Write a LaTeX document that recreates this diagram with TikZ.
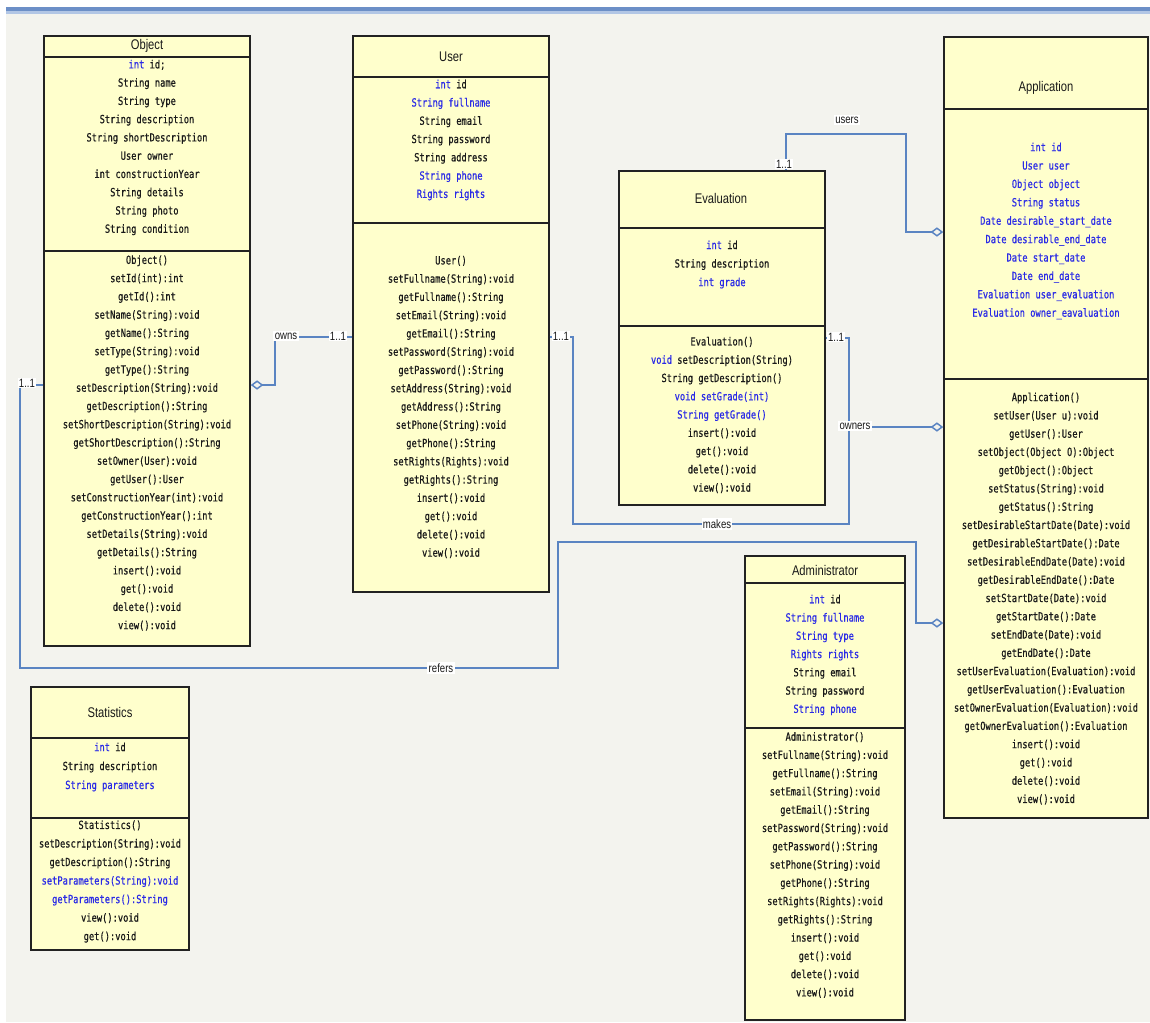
\documentclass[tikz,border=0pt]{standalone}
\usepackage{fontspec}
\setmainfont{Liberation Sans}
\newfontfamily\codefont[FakeStretch=0.78,FakeBold=0.6]{DejaVu Sans Mono}
\newfontfamily\titlefont[FakeStretch=0.8]{Liberation Sans}
\usetikzlibrary{fit,arrows.meta}
\definecolor{boxfill}{HTML}{FFFFCC}
\definecolor{boxline}{HTML}{222222}
\definecolor{bluetxt}{HTML}{2A2AE6}
\definecolor{conncol}{HTML}{5A84C2}
\definecolor{bggray}{HTML}{F3F3EE}
\definecolor{bandA}{HTML}{6C8FC7}
\definecolor{bandB}{HTML}{B2C6E5}
\newcommand{\bl}[1]{\textcolor{bluetxt}{#1}}
\tikzset{
 classbox/.style={draw=boxline, fill=boxfill, line width=1.1pt, inner sep=0pt},
 divider/.style={draw=boxline, line width=1.1pt},
 ctitle/.style={font=\titlefont\fontsize{10.5}{12}\selectfont, text=black!90, inner sep=0pt},
 members/.style={font=\codefont\fontsize{8.4}{#1}\selectfont, align=center, text=black!90, inner sep=0pt},
 members/.default=13.7pt,
 conn/.style={draw=conncol, line width=1.4pt},
 agg/.style={conn, -{Diamond[open, length=9.5pt, width=7pt, line width=1.1pt]}},
 lbl/.style={fill=white, inner sep=1pt, font=\titlefont\fontsize{9}{10}\selectfont, text=black!90},
}
\begin{document}
\begin{tikzpicture}[x=0.75pt,y=-0.75pt]
\useasboundingbox (0,0) rectangle (1150,1022);
\fill[white] (0,0) rectangle (1150,1022);
\fill[bggray] (6,14) rectangle (1150,1022);
\fill[bandA] (6,7) rectangle (1150,10.5);
\fill[bandB] (6,10.5) rectangle (1150,14);

% ---------- Object ----------
\node[classbox, fit={(44,36) (250,646)}] (obj) {};
\draw[divider] (obj.west |- 0,57) -- (obj.east |- 0,57);
\draw[divider] (obj.west |- 0,251) -- (obj.east |- 0,251);
\node[ctitle] (objT) at (147,46) {Object};
\node[members] (objA) at (147,147.5) {\bl{int} id;\\String name\\String type\\String description\\String shortDescription\\User owner\\int constructionYear\\String details\\String photo\\String condition};
\node[members] (objM) at (147,443) {Object()\\setId(int):int\\getId():int\\setName(String):void\\getName():String\\setType(String):void\\getType():String\\setDescription(String):void\\getDescription():String\\setShortDescription(String):void\\getShortDescription():String\\setOwner(User):void\\getUser():User\\setConstructionYear(int):void\\getConstructionYear():int\\setDetails(String):void\\getDetails():String\\insert():void\\get():void\\delete():void\\view():void};

% ---------- User ----------
\node[classbox, fit={(353,36) (549,592)}] (user) {};
\draw[divider] (user.west |- 0,77) -- (user.east |- 0,77);
\node[ctitle] (userT) at (451,57) {User};
\draw[divider] (user.west |- 0,223) -- (user.east |- 0,223);
\node[members] (userA) at (451,140) {\bl{int} id\\\bl{String fullname}\\String email\\String password\\String address\\\bl{String phone}\\\bl{Rights rights}};
\node[members] (userM) at (451,407) {User()\\setFullname(String):void\\getFullname():String\\setEmail(String):void\\getEmail():String\\setPassword(String):void\\getPassword():String\\setAddress(String):void\\getAddress():String\\setPhone(String):void\\getPhone():String\\setRights(Rights):void\\getRights():String\\insert():void\\get():void\\delete():void\\view():void};

% ---------- Evaluation ----------
\node[classbox, fit={(619,171) (825,505)}] (eval) {};
\draw[divider] (eval.west |- 0,228) -- (eval.east |- 0,228);
\draw[divider] (eval.west |- 0,326) -- (eval.east |- 0,326);
\node[ctitle] (evalT) at (721,198) {Evaluation};
\node[members=13.9pt] (evalA) at (722,264.5) {\bl{int} id\\String description\\\bl{int grade}};
\node[members] (evalM) at (722,415) {Evaluation()\\\bl{void} setDescription(String)\\String getDescription()\\\bl{void setGrade(int)}\\\bl{String getGrade()}\\insert():void\\get():void\\delete():void\\view():void};

% ---------- Application ----------
\node[classbox, fit={(944,37) (1148,818)}] (app) {};
\draw[divider] (app.west |- 0,109) -- (app.east |- 0,109);
\draw[divider] (app.west |- 0,379) -- (app.east |- 0,379);
\node[ctitle] (appT) at (1046,88) {Application};
\node[members=13.8pt, text=bluetxt] (appA) at (1046,231) {int id\\User user\\Object object\\String status\\Date desirable\_start\_date\\Date desirable\_end\_date\\Date start\_date\\Date end\_date\\Evaluation user\_evaluation\\Evaluation owner\_eavaluation};
\node[members] (appM) at (1046,598.5) {Application()\\setUser(User u):void\\getUser():User\\setObject(Object O):Object\\getObject():Object\\setStatus(String):void\\getStatus():String\\setDesirableStartDate(Date):void\\getDesirableStartDate():Date\\setDesirableEndDate(Date):void\\getDesirableEndDate():Date\\setStartDate(Date):void\\getStartDate():Date\\setEndDate(Date):void\\getEndDate():Date\\setUserEvaluation(Evaluation):void\\getUserEvaluation():Evaluation\\setOwnerEvaluation(Evaluation):void\\getOwnerEvaluation():Evaluation\\insert():void\\get():void\\delete():void\\view():void};

% ---------- Administrator ----------
\node[classbox, fit={(745,556) (905,1020)}] (admin) {};
\draw[divider] (admin.west |- 0,583) -- (admin.east |- 0,583);
\draw[divider] (admin.west |- 0,728) -- (admin.east |- 0,728);
\node[ctitle] (adminT) at (825,570) {Administrator};
\node[members] (adminA) at (825,655) {\bl{int} id\\\bl{String fullname}\\\bl{String type}\\\bl{Rights rights}\\String email\\String password\\\bl{String phone}};
\node[members] (adminM) at (825,865) {Administrator()\\setFullname(String):void\\getFullname():String\\setEmail(String):void\\getEmail():String\\setPassword(String):void\\getPassword():String\\setPhone(String):void\\getPhone():String\\setRights(Rights):void\\getRights():String\\insert():void\\get():void\\delete():void\\view():void};

% ---------- Statistics ----------
\node[classbox, fit={(31,687) (189,950)}] (stats) {};
\draw[divider] (stats.west |- 0,738) -- (stats.east |- 0,738);
\draw[divider] (stats.west |- 0,818) -- (stats.east |- 0,818);
\node[ctitle] (statsT) at (110,712) {Statistics};
\node[members=14.2pt] (statsA) at (110,767) {\bl{int} id\\String description\\\bl{String parameters}};
\node[members=13.9pt] (statsM) at (110,881.5) {Statistics()\\setDescription(String):void\\getDescription():String\\\bl{setParameters(String):void}\\\bl{getParameters():String}\\view():void\\get():void};

% ---------- Connectors ----------
% owns
\draw[agg] (user.west |- 0,337) -- (275,337) -- (275,385) -- (obj.east |- 0,385);
\node[lbl] (ownsL) at (286,336) {owns};
\node[lbl] (ownsM) at (338,336) {1..1};
% refers
\draw[agg] (obj.west |- 0,385) -- (20,385) -- (20,668) -- (558,668) -- (558,542) -- (916,542) -- (916,623) -- (app.west |- 0,623);
\node[lbl] (refM) at (27,383) {1..1};
\node[lbl] (refL) at (441,668) {refers};
% makes
\draw[conn] (user.east |- 0,337) -- (573,337) -- (573,524) -- (849,524) -- (849,338) -- (eval.east |- 0,338);
\node[lbl] (makesM1) at (561,336) {1..1};
\node[lbl] (makesL) at (717,524) {makes};
% owners
\draw[agg] (eval.east |- 0,338) -- (849,338) -- (849,427) -- (app.west |- 0,427);
\node[lbl] (ownersM) at (836,337) {1..1};
\node[lbl] (ownersL) at (855,426) {owners};
% users
\draw[agg] (eval.north -| 786,0) -- (786,134) -- (906,134) -- (906,232) -- (app.west |- 0,232);
\node[lbl] (usersM) at (784,164) {1..1};
\node[lbl] (usersL) at (847,120) {users};
\end{tikzpicture}
\end{document}
